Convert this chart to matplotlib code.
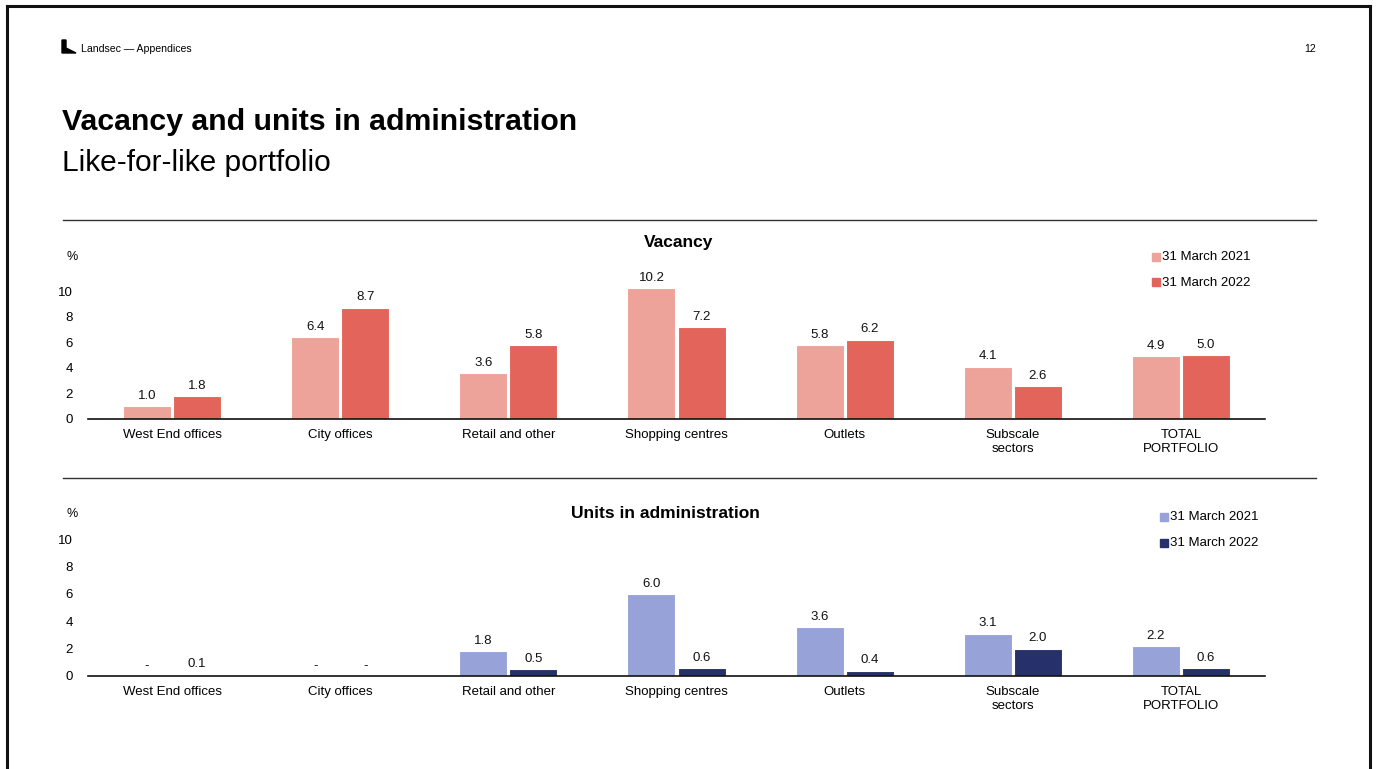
import matplotlib
matplotlib.use("Agg")
import matplotlib.pyplot as plt
from matplotlib.patches import Polygon, Rectangle
from matplotlib.lines import Line2D
import numpy as np

plt.rcParams['font.family'] = ['Liberation Sans', 'DejaVu Sans']

# Data
categories = ['West End offices', 'City offices', 'Retail and other', 'Shopping centres',
              'Outlets', 'Subscale\nsectors', 'TOTAL\nPORTFOLIO']
series_labels = ['31 March 2021', '31 March 2022']
vacancy_2021 = [1.0, 6.4, 3.6, 10.2, 5.8, 4.1, 4.9]
vacancy_2022 = [1.8, 8.7, 5.8, 7.2, 6.2, 2.6, 5.0]
admin_2021 = [0.0, 0.0, 1.8, 6.0, 3.6, 3.1, 2.2]
admin_2022 = [0.1, 0.0, 0.5, 0.6, 0.4, 2.0, 0.6]
y_ticks = [0, 2, 4, 6, 8, 10]

W, H = 1377, 769
fig = plt.figure(figsize=(W / 100, H / 100), dpi=100)


def fx(x):
    return x / W


def fy(y):
    return 1 - y / H


# slide frame
for xs, ys in [((7, 1370), (6, 6)), ((7, 7), (6, 769)), ((1370, 1370), (6, 769))]:
    fig.add_artist(Line2D([fx(v) for v in xs], [fy(v) for v in ys], color='#111111', lw=2.2))

# header
logo = Polygon([(fx(62), fy(40)), (fx(66), fy(40)), (fx(66), fy(48)), (fx(76), fy(53)), (fx(62), fy(53))],
               closed=True, color='black', transform=fig.transFigure)
fig.add_artist(logo)
fig.text(fx(81), fy(49), 'Landsec \u2014 Appendices', fontsize=7.6, va='center', ha='left')
fig.text(fx(1316), fy(49), '12', fontsize=7.6, va='center', ha='right')
fig.text(fx(62), fy(122), 'Vacancy and units in administration', fontsize=21.8,
         fontweight='bold', va='center', ha='left')
fig.text(fx(62), fy(163), 'Like-for-like portfolio', fontsize=21.5, va='center', ha='left')

for y in (220, 478):
    fig.add_artist(Line2D([fx(63), fx(1316)], [fy(y), fy(y)], color='#333333', lw=1))

x = np.arange(len(categories))
bar_w = 0.285
offset = 0.149


def draw_panel(rect, v1, v2, colors, title, title_xy, pct_y, legend_x, legend_y):
    ax = fig.add_axes(rect)
    b1 = ax.bar(x - offset, v1, bar_w, color=colors[0], edgecolor='white', linewidth=0.8)
    b2 = ax.bar(x + offset, v2, bar_w, color=colors[1], edgecolor='white', linewidth=0.8)
    for bars, vals in ((b1, v1), (b2, v2)):
        labels = ['-' if v == 0 else f'{v:.1f}' for v in vals]
        ax.bar_label(bars, labels=labels, padding=3, fontsize=9.5, color='#111111')
    ax.set_xlim(-0.5, len(categories) - 0.5)
    ax.set_ylim(0, 12)
    ax.set_yticks(y_ticks)
    ax.set_xticks(x)
    ax.set_xticklabels(categories, fontsize=9.5, linespacing=1.15)
    ax.tick_params(axis='y', length=0, pad=11, labelsize=9.5)
    ax.tick_params(axis='x', length=0, pad=7.5)
    for s in ('top', 'right', 'left'):
        ax.spines[s].set_visible(False)
    ax.spines['bottom'].set_color('#111111')
    ax.spines['bottom'].set_linewidth(1.2)
    fig.text(fx(title_xy[0]), fy(title_xy[1]), title, fontsize=12.5, fontweight='bold',
             ha='center', va='center')
    fig.text(fx(72), fy(pct_y), '%', fontsize=9, ha='center', va='center')
    for i, (lab, col) in enumerate(zip(series_labels, colors)):
        yy = legend_y + i * 25.5
        fig.add_artist(Rectangle((fx(legend_x), fy(yy + 4)), fx(8), 8 / H, color=col,
                                 transform=fig.transFigure))
        fig.text(fx(legend_x + 10), fy(yy), lab, fontsize=9.5, ha='left', va='center')
    return ax


draw_panel([fx(88), fy(419), fx(1265) - fx(88), (419 - 265.4) / H],
           vacancy_2021, vacancy_2022, ['#EDA29A', '#E2645A'],
           'Vacancy', (679, 242), 257, 1152, 257)
draw_panel([fx(88), fy(676), fx(1265) - fx(88), (676 - 511.6) / H],
           admin_2021, admin_2022, ['#97A3D8', '#26306A'],
           'Units in administration', (665, 513), 514, 1160, 517)

fig.savefig('out.png', dpi=100, facecolor='white')
